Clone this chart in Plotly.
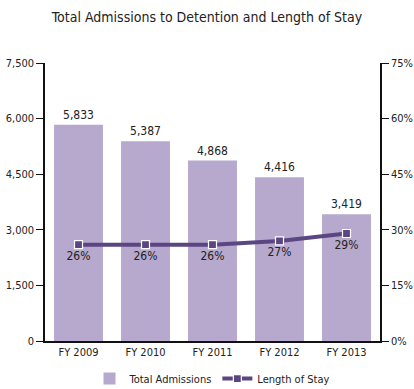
import plotly.graph_objects as go

categories = ["FY 2009", "FY 2010", "FY 2011", "FY 2012", "FY 2013"]
admissions = [5833, 5387, 4868, 4416, 3419]
length_of_stay = [26, 26, 26, 27, 29]
left_ticks = [0, 1500, 3000, 4500, 6000, 7500]
right_ticks = [0, 15, 30, 45, 60, 75]

FONT = "DejaVu Sans Condensed, Liberation Sans Narrow, sans-serif"
BAR = "#b7a8cd"
LINE = "#5a4682"

fig = go.Figure()
fig.add_trace(go.Bar(
    x=categories, y=admissions, name="Total Admissions",
    marker=dict(color=BAR, line=dict(width=0)),
    text=[f"{v:,}" for v in admissions], textposition="outside",
    textfont=dict(size=12, color="#222", family=FONT), cliponaxis=False,
))
fig.add_trace(go.Scatter(
    x=categories, y=length_of_stay, name="Length of Stay", yaxis="y2",
    mode="lines+markers+text",
    line=dict(color=LINE, width=4),
    marker=dict(symbol="square", size=8, color=LINE, line=dict(color="white", width=1.2)),
    text=[f"{v}%" for v in length_of_stay], textposition="bottom center",
    textfont=dict(size=12, color="#222", family=FONT), cliponaxis=False,
))
fig.update_layout(
    width=414, height=389,
    margin=dict(l=45, r=34, t=63, b=48, autoexpand=False),
    paper_bgcolor="white", plot_bgcolor="white",
    font=dict(family=FONT, size=11, color="#222"),
    title=dict(text="Total Admissions to Detention and Length of Stay",
               x=0.5, xanchor="center", y=0.955, yanchor="middle",
               font=dict(size=14, family=FONT, color="#222")),
    bargap=0.27,
    showlegend=True,
    legend=dict(orientation="h", x=0.5, xanchor="center", y=-0.135, yanchor="middle",
                font=dict(size=11, family=FONT), traceorder="normal"),
    xaxis=dict(showline=True, linecolor="#111", linewidth=1.5, ticks="",
               tickfont=dict(size=11), showgrid=False),
    yaxis=dict(range=[0, 7500], tickvals=left_ticks,
               ticktext=[f"{v:,}" for v in left_ticks],
               showline=True, linecolor="#111", linewidth=1.5,
               ticks="outside", ticklen=7, tickcolor="#111", showgrid=False,
               zeroline=False, tickfont=dict(size=11)),
    yaxis2=dict(range=[0, 75], tickvals=right_ticks,
                ticktext=[f"{v}%" for v in right_ticks],
                overlaying="y", side="right",
                showline=True, linecolor="#111", linewidth=1.5,
                ticks="outside", ticklen=7, tickcolor="#111", showgrid=False,
                zeroline=False, tickfont=dict(size=11)),
)
fig.write_html("out.html")
